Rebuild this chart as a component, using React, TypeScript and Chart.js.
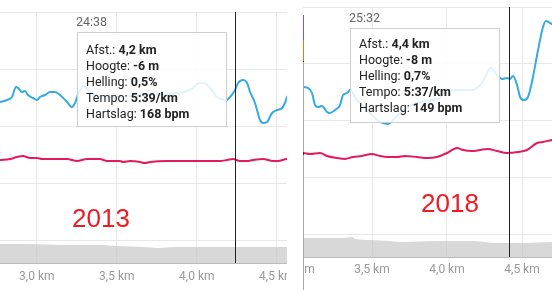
import React, { useEffect, useRef } from "react";
import { Chart, registerables } from "chart.js";

Chart.register(...registerables);
Chart.defaults.font.family = "Roboto, 'Liberation Sans', sans-serif";

// ---------- 2013 (left panel) ----------
const paceKm2013 = [2.770, 2.814, 2.845, 2.870, 2.883, 2.908, 2.926, 2.945, 2.976, 3.001, 3.020, 3.051, 3.083, 3.114, 3.145, 3.189, 3.220, 3.239, 3.264, 3.295, 3.320, 3.364, 3.458, 3.583, 3.708, 3.833, 3.958, 4.020, 4.045, 4.083, 4.126, 4.189, 4.208, 4.239, 4.258, 4.289, 4.314, 4.333, 4.364, 4.395, 4.414, 4.439, 4.470, 4.501, 4.533, 4.551, 4.564, 4.614, 4.676, 4.790];
const speed2013 = [10.05, 10.15, 10.30, 10.80, 10.75, 10.55, 10.60, 10.40, 10.25, 10.15, 10.30, 10.40, 10.55, 10.55, 10.40, 10.05, 9.80, 10.00, 10.55, 10.85, 10.65, 10.40, 10.30, 10.35, 10.40, 10.45, 10.65, 11.00, 11.00, 10.75, 10.30, 10.15, 10.30, 10.65, 11.00, 11.15, 11.00, 10.55, 10.00, 9.15, 9.00, 9.05, 9.50, 9.65, 9.75, 10.00, 10.30, 10.65, 10.75, 10.55];
const hrKm2013 = [2.770, 2.833, 2.876, 2.914, 2.958, 3.001, 3.033, 3.189, 3.251, 3.314, 3.395, 3.439, 3.520, 3.539, 3.583, 3.645, 3.676, 3.708, 3.814, 4.020, 4.145, 4.189, 4.226, 4.270, 4.314, 4.351, 4.414, 4.476, 4.508, 4.564, 4.645, 4.790];
const hr2013 = [168, 168.5, 169.5, 170, 169, 169, 168.5, 168.5, 167.5, 168.5, 168.5, 167.5, 167.5, 167, 167.5, 167, 166.5, 167, 167.5, 167.5, 167.5, 168, 168.5, 167.5, 167.5, 168, 168.5, 167.5, 167.5, 168.5, 168.5, 168];
const elevKm2013 = [2.770, 2.939, 3.189, 3.400, 3.501, 3.664, 3.770, 3.851, 4.020, 4.226, 4.439, 4.564, 4.790];
const elev2013 = [-4.5, -4.5, -5, -5, -5.5, -6, -6.5, -6, -6, -6, -6, -6, -6];
const cursorKm2013 = 4.2375;
const tip2013 = { time: "24:38", afst: "4,2 km", hoogte: "-6 m", helling: "0,5%", tempo: "5:39/km", hartslag: "168 bpm" };

// ---------- 2018 (right panel) ----------
const paceKm2018 = [2.840, 2.953, 3.040, 3.073, 3.100, 3.120, 3.140, 3.167, 3.200, 3.220, 3.253, 3.287, 3.307, 3.333, 3.353, 3.400, 3.487, 3.553, 3.607, 3.640, 3.687, 3.753, 3.800, 3.853, 3.907, 3.953, 4.000, 4.040, 4.107, 4.173, 4.233, 4.293, 4.333, 4.367, 4.400, 4.420, 4.440, 4.467, 4.487, 4.513, 4.540, 4.573, 4.607, 4.640, 4.660, 4.687, 4.700, 4.753, 4.860];
const speed2018 = [10.33, 10.18, 10.23, 10.18, 9.93, 9.33, 9.23, 9.28, 8.98, 8.93, 9.08, 9.33, 9.83, 9.93, 10.08, 9.58, 8.93, 8.48, 8.38, 8.58, 8.93, 9.28, 9.43, 9.53, 9.58, 9.68, 10.08, 10.08, 10.08, 10.08, 10.43, 11.18, 10.83, 10.63, 10.68, 10.63, 10.78, 10.33, 9.73, 9.58, 9.73, 10.73, 12.08, 13.23, 13.53, 13.43, 13.38, 13.18, 13.08];
const hrKm2018 = [2.840, 2.953, 3.040, 3.087, 3.153, 3.200, 3.267, 3.320, 3.373, 3.433, 3.500, 3.553, 3.607, 3.667, 3.720, 3.800, 3.867, 3.933, 4.000, 4.067, 4.107, 4.167, 4.220, 4.273, 4.333, 4.400, 4.473, 4.533, 4.600, 4.640, 4.700, 4.860];
const hr2018 = [149.5, 149, 149, 148.5, 149, 147.5, 146.5, 146, 147, 147.5, 148.5, 147.5, 147, 147, 147.5, 147, 146.5, 147, 149, 151.5, 150.5, 150, 150.5, 151, 150, 149, 149.5, 150.5, 154, 154.5, 155.5, 156];
const elevKm2018 = [2.840, 3.040, 3.220, 3.307, 3.367, 3.387, 3.500, 3.720, 3.907, 4.173, 4.333, 4.420, 4.507, 4.700, 4.860];
const elev2018 = [-5.5, -5.5, -5.5, -5.5, -5, -6, -6.5, -7.5, -7, -7, -8, -8, -8, -7.5, -7.5];
const cursorKm2018 = 4.413;
const tip2018 = { time: "25:32", afst: "4,4 km", hoogte: "-8 m", helling: "0,7%", tempo: "5:37/km", hartslag: "149 bpm" };

const BLUE = "#36aae2";
const RED = "#e31b5a";
const GRID = "#e8e8e8";

const pts = (xs: number[], ys: number[]) => xs.map((x, i) => ({ x, y: ys[i] }));

const cursorPlugin = {
  id: "cursor",
  afterDatasetsDraw(chart: any, _args: any, opts: any) {
    const x = Math.round(chart.scales.x.getPixelForValue(opts.value)) + 0.5;
    const { top, bottom } = chart.chartArea;
    const ctx = chart.ctx;
    ctx.save();
    ctx.strokeStyle = "#222";
    ctx.lineWidth = 1;
    ctx.beginPath();
    ctx.moveTo(x, top);
    ctx.lineTo(x, bottom);
    ctx.stroke();
    ctx.restore();
  },
};

type Cfg = {
  width: number; left: number; top: number; axisH: number; tickPad: number;
  xMin: number; xMax: number; gMin: number;
  speed: [number, number]; hr: [number, number]; elev: [number, number];
  paceKm: number[]; pace: number[]; hrKm: number[]; hrV: number[]; elevKm: number[]; elevV: number[];
  cursor: number;
};

function Panel({ cfg }: { cfg: Cfg }) {
  const ref = useRef<HTMLCanvasElement>(null);
  useEffect(() => {
    const chart = new Chart(ref.current!, {
      type: "line",
      data: {
        datasets: [
          { label: "Tempo", data: pts(cfg.paceKm, cfg.pace), yAxisID: "pace", borderColor: BLUE, borderWidth: 2, pointRadius: 0, cubicInterpolationMode: "monotone", fill: false, order: 1 },
          { label: "Hartslag", data: pts(cfg.hrKm, cfg.hrV), yAxisID: "hr", borderColor: RED, borderWidth: 2, pointRadius: 0, cubicInterpolationMode: "monotone", fill: false, order: 2 },
          { label: "Hoogte", data: pts(cfg.elevKm, cfg.elevV), yAxisID: "elev", borderWidth: 0, borderColor: "rgba(0,0,0,0)", backgroundColor: "rgba(200,200,200,0.7)", pointRadius: 0, cubicInterpolationMode: "monotone", fill: "start", order: 3 },
        ],
      } as any,
      options: {
        responsive: false,
        animation: false,
        devicePixelRatio: 1,
        layout: { padding: { top: cfg.top, left: 0, right: 0, bottom: 0 } },
        plugins: { legend: { display: false }, tooltip: { enabled: false }, cursor: { value: cfg.cursor } } as any,
        scales: {
          x: {
            type: "linear", min: cfg.xMin, max: cfg.xMax,
            grid: { color: GRID, drawTicks: false },
            border: { color: "#bbb" },
            ticks: {
              stepSize: 0.5, includeBounds: false, autoSkip: false, maxRotation: 0,
              color: "#999", font: { size: 12 }, padding: cfg.tickPad,
              callback: (v: any) => Number(v).toFixed(1).replace(".", ",") + " km",
            },
            afterFit: (s: any) => { s.height = cfg.axisH; },
          },
          g: {
            type: "linear", position: "left", min: cfg.gMin, max: 4,
            grid: { color: GRID, drawTicks: false },
            border: { display: false },
            ticks: { display: false, stepSize: 1, includeBounds: false },
            afterFit: (s: any) => { s.width = 0; },
          },
          pace: { type: "linear", display: false, min: cfg.speed[0], max: cfg.speed[1] },
          hr: { type: "linear", display: false, min: cfg.hr[0], max: cfg.hr[1] },
          elev: { type: "linear", display: false, min: cfg.elev[0], max: cfg.elev[1] },
        } as any,
      },
      plugins: [cursorPlugin],
    });
    return () => chart.destroy();
  }, []);
  return (
    <canvas
      ref={ref}
      width={cfg.width}
      height={290}
      style={{ position: "absolute", left: cfg.left, top: 0, width: cfg.width, height: 290 }}
    />
  );
}

const cfg2013: Cfg = {
  width: 322, left: 0, top: 12, axisH: 27, tickPad: 7,
  xMin: 2.77, xMax: 2.77 + 322 / 160, gMin: -23 / 57,
  speed: [2.0, 14.55], hr: [116.5, 242], elev: [-14, 111.5],
  paceKm: paceKm2013, pace: speed2013, hrKm: hrKm2013, hrV: hr2013, elevKm: elevKm2013, elevV: elev2013,
  cursor: cursorKm2013,
};

const cfg2018: Cfg = {
  width: 302, left: -30, top: 7, axisH: 33, tickPad: 6,
  xMin: 2.84, xMax: 2.84 + 302 / 150, gMin: -23 / 56.75,
  speed: [1.73, 14.23], hr: [97, 222], elev: [-15, 110],
  paceKm: paceKm2018, pace: speed2018, hrKm: hrKm2018, hrV: hr2018, elevKm: elevKm2018, elevV: elev2018,
  cursor: cursorKm2018,
};

function Tooltip({ tip, left, top, height, padTop }: { tip: typeof tip2013; left: number; top: number; height: number; padTop: number }) {
  const rows: [string, string][] = [
    ["Afst.: ", tip.afst],
    ["Hoogte: ", tip.hoogte],
    ["Helling: ", tip.helling],
    ["Tempo: ", tip.tempo],
    ["Hartslag: ", tip.hartslag],
  ];
  return (
    <>
      <div style={{ position: "absolute", left: left - 1, top: top - 17, fontSize: 12.5, lineHeight: "14px", color: "#666" }}>{tip.time}</div>
      <div
        style={{
          position: "absolute", left, top, width: 150, height, boxSizing: "border-box",
          border: "1px solid #cfcfcf", background: "rgba(255,255,255,0.85)",
          paddingLeft: 8, paddingTop: padTop, fontSize: 12.5, lineHeight: "16px", color: "#222", whiteSpace: "nowrap",
        }}
      >
        {rows.map(([k, v]) => (
          <div key={k}>
            {k}
            <b>{v}</b>
          </div>
        ))}
      </div>
    </>
  );
}

export default function App() {
  return (
    <div style={{ position: "fixed", left: 0, top: 0, width: 552, height: 290, background: "#fff", overflow: "hidden", fontFamily: "Roboto, 'Liberation Sans', sans-serif" }}>
      <div style={{ position: "absolute", left: 0, top: 0, width: 287, height: 290, overflow: "hidden" }}>
        <Panel cfg={cfg2013} />
      </div>
      <div style={{ position: "absolute", left: 303, top: 0, width: 249, height: 290, overflow: "hidden" }}>
        <Panel cfg={cfg2018} />
      </div>
      {/* right panel axis markers */}
      <div style={{ position: "absolute", left: 303, top: 15, width: 1, height: 25, background: "#8c5a96" }} />
      <div style={{ position: "absolute", left: 303, top: 40, width: 1, height: 21, background: "#e07b1e" }} />
      <div style={{ position: "absolute", left: 303, top: 61, width: 1, height: 1, background: "#222" }} />
      <div style={{ position: "absolute", left: 303, top: 62, width: 1, height: 228, background: "#aaa" }} />
      <div style={{ position: "absolute", left: 303, top: 152, width: 1, height: 3, background: "#333" }} />

      <Tooltip tip={tip2013} left={77} top={32} height={95} padTop={9} />
      <Tooltip tip={tip2018} left={350} top={28} height={95} padTop={7} />

      <div style={{ position: "absolute", left: 72, top: 204.5, fontFamily: "'Liberation Sans', Arial, sans-serif", fontSize: 26, lineHeight: "26px", color: "#ed1c24" }}>2013</div>
      <div style={{ position: "absolute", left: 421, top: 189.5, fontFamily: "'Liberation Sans', Arial, sans-serif", fontSize: 26, lineHeight: "26px", color: "#ed1c24" }}>2018</div>
    </div>
  );
}
